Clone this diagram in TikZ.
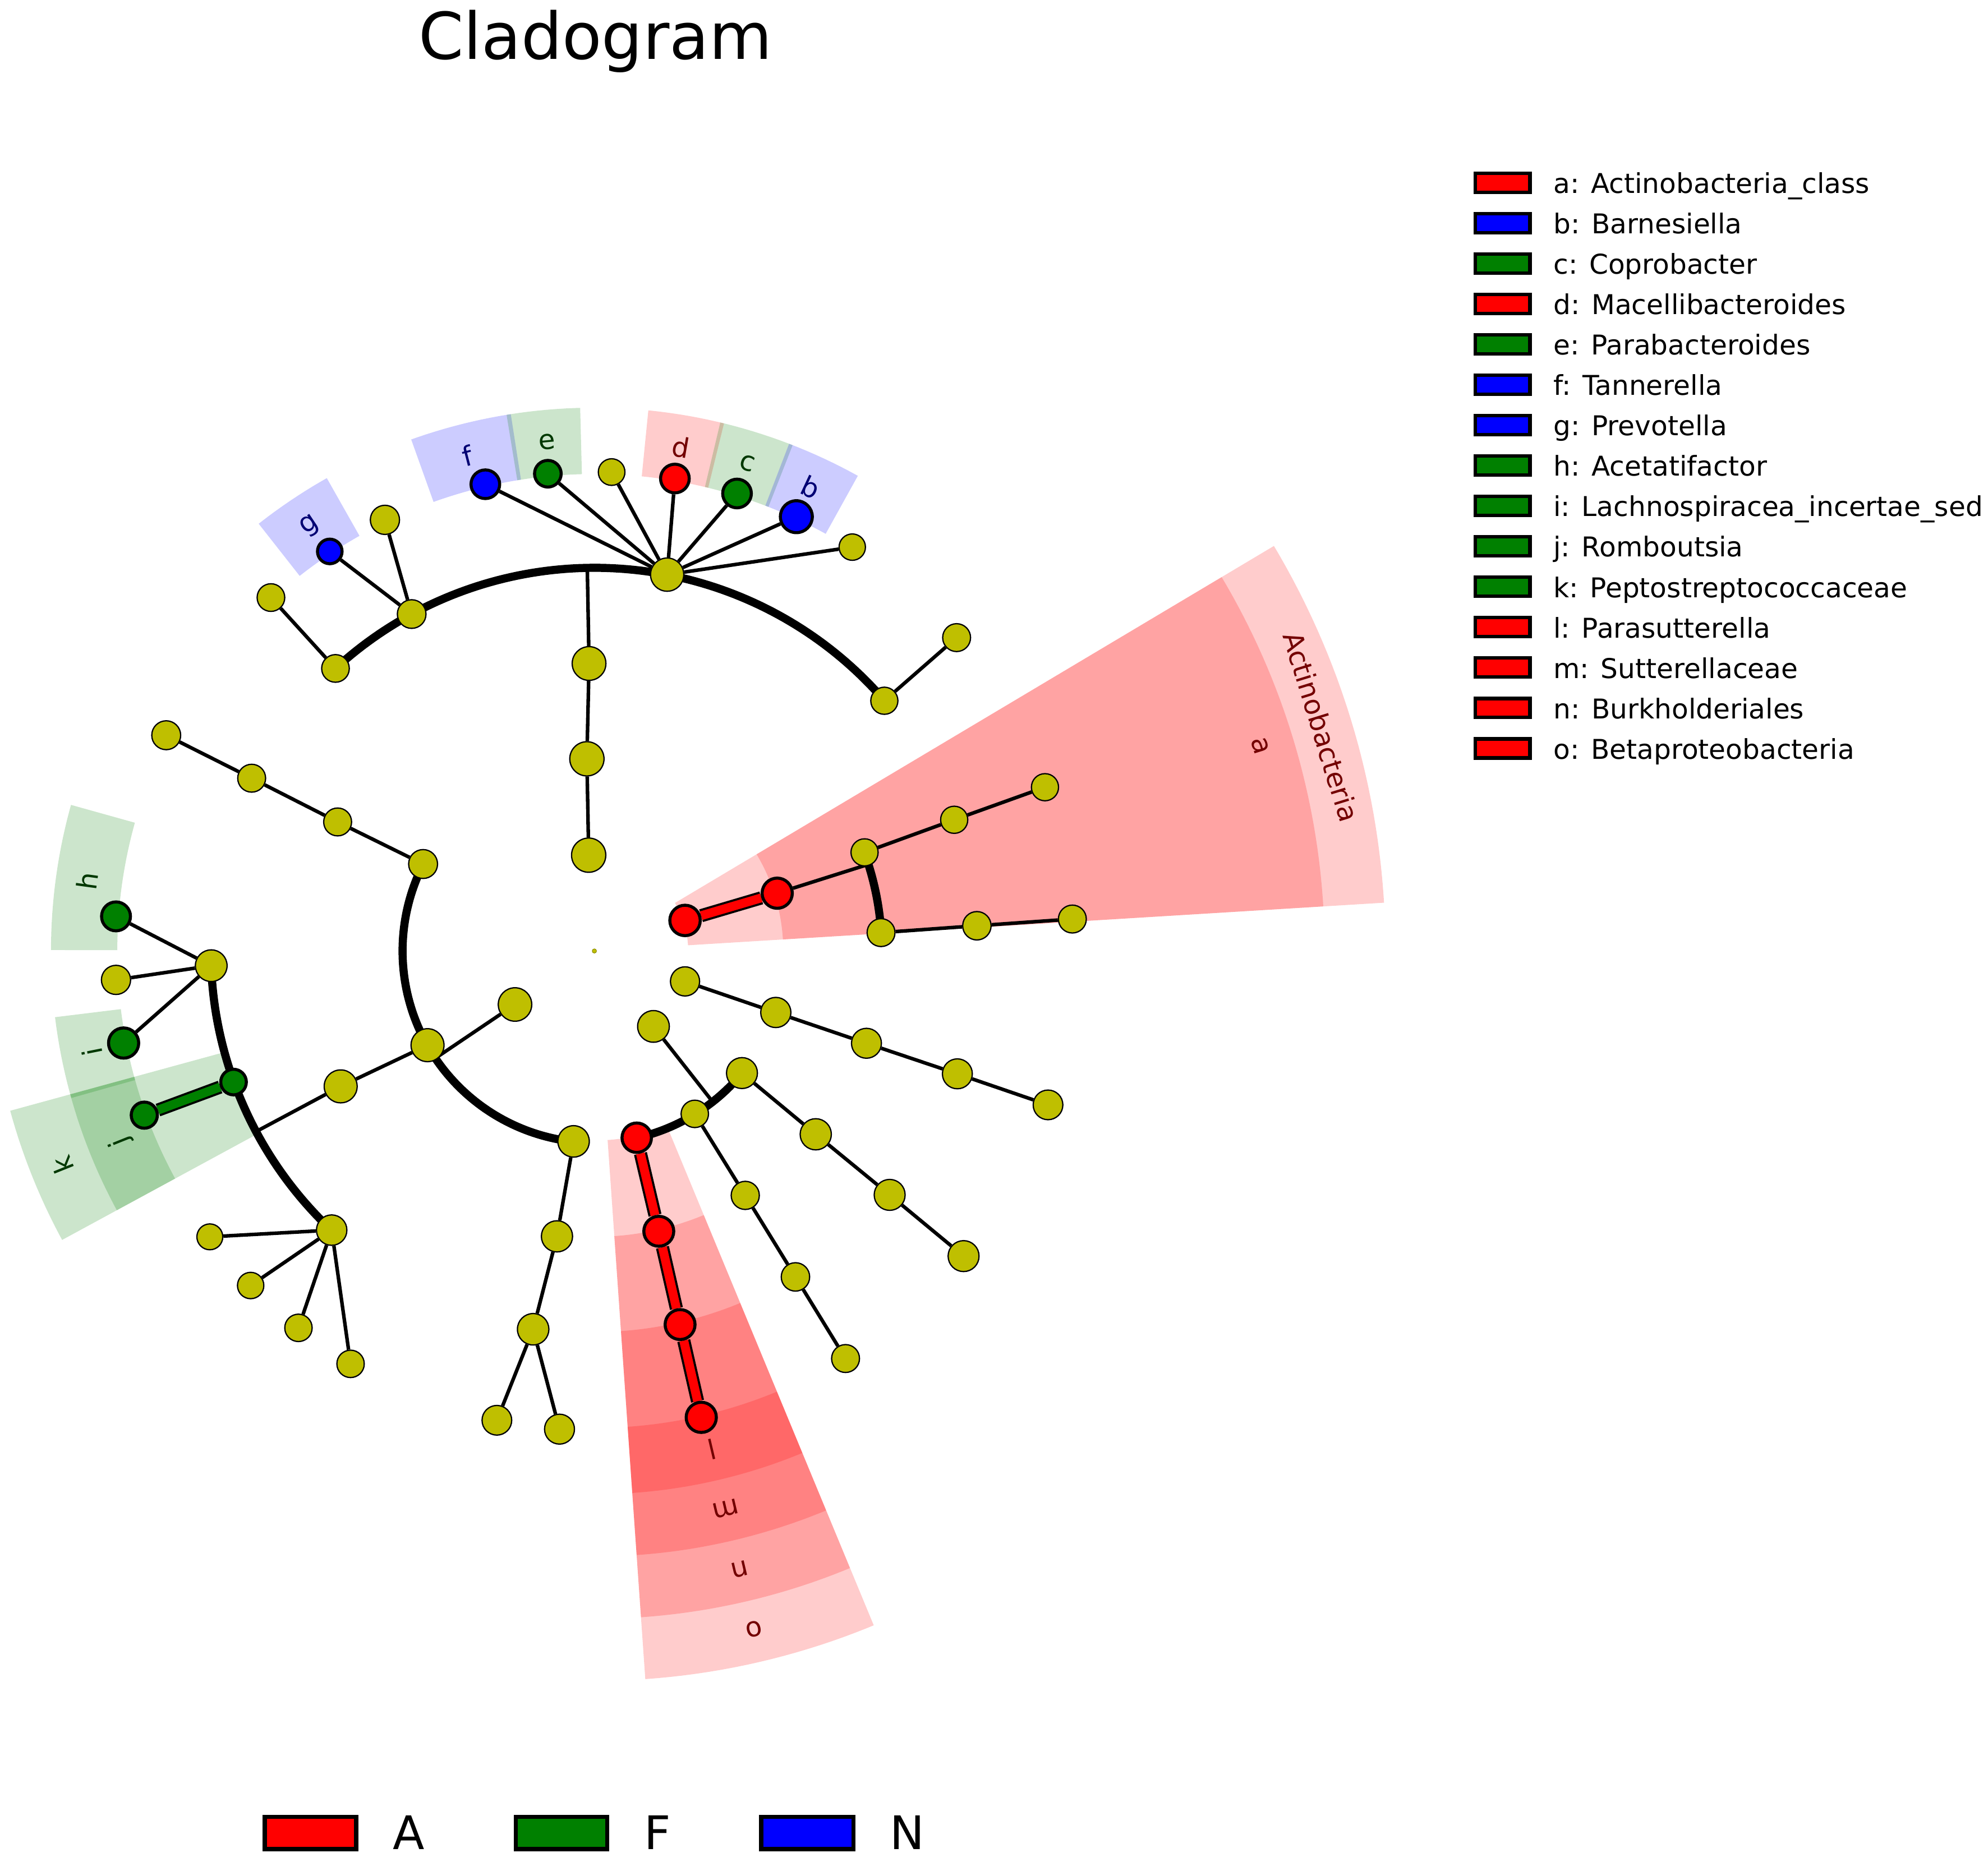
\documentclass[tikz,border=0pt]{standalone}
\usepackage{fontspec}
\setmainfont{DejaVu Sans}
\usetikzlibrary{calc}
\pgfdeclarelayer{seclayer}
\pgfdeclarelayer{edgelayer}
\pgfsetlayers{seclayer,edgelayer,main}
\definecolor{nodey}{rgb}{0.75,0.75,0}
\definecolor{mgreen}{rgb}{0,0.5,0}
\definecolor{labred}{rgb}{0.45,0,0}
\definecolor{labgreen}{rgb}{0,0.22,0}
\definecolor{labblue}{rgb}{0,0,0.45}
\newcommand\clsector[5]{\fill[#5,fill opacity=0.2] plot[domain=#1:#2,samples=60,variable=\t] ({468.8+#3*cos(\t)},{750.2+#3*sin(\t)}) -- plot[domain=#2:#1,samples=60,variable=\t] ({468.8+#4*cos(\t)},{750.2+#4*sin(\t)}) -- cycle;}
\newcommand\clarc[3]{\draw[tarc] plot[domain=#2:#3,samples=90,variable=\t] ({468.8+#1*cos(\t)},{750.2+#1*sin(\t)});}
\begin{document}
\begin{tikzpicture}[x=0.5pt,y=-0.5pt,
 ynode/.style={circle,draw=black,line width=0.5pt,fill=nodey,inner sep=0pt,minimum size=#1pt-0.5pt},
 rnode/.style={circle,draw=black,line width=1.2pt,fill=red,inner sep=0pt,minimum size=#1pt-1.2pt},
 gnode/.style={circle,draw=black,line width=1.2pt,fill=mgreen,inner sep=0pt,minimum size=#1pt-1.2pt},
 bnode/.style={circle,draw=black,line width=1.2pt,fill=blue,inner sep=0pt,minimum size=#1pt-1.2pt},
 brline/.style={line width=1.4pt,black},
 tarc/.style={line width=3.2pt,black},
 hlout/.style={line width=5.2pt,black},
 hlin/.style={line width=3.5pt},
 lab/.style={font=\fontsize{10.75}{13}\selectfont,inner sep=0pt},
 legt/.style={font=\fontsize{10.75}{13}\selectfont,inner sep=0pt,anchor=base west},
 bigleg/.style={font=\fontsize{18.25}{22}\selectfont,inner sep=0pt,anchor=base west},
 legpatch/.style={line width=1.35pt,draw=black},
 bigpatch/.style={line width=1.65pt,draw=black}]
\useasboundingbox (0,0) rectangle (1568,1468.5);
\coordinate (C) at (468.8,750.2);

% ---------- highlighted sectors ----------
\begin{pgfonlayer}{seclayer}
\fill[white] (0,0) rectangle (1568,1468.5);
\clsector{-30.8}{-3.5}{74}{624}{red}
\clsector{-30.8}{-3.5}{149}{576}{red}
\clsector{67.5}{86}{149.5}{575.8}{red}
\clsector{67.5}{86}{225.5}{526.9}{red}
\clsector{67.5}{86}{300.6}{477.7}{red}
\clsector{67.5}{86}{376.3}{428.6}{red}
\clsector{-128.15}{-119.5}{376.3}{428.6}{blue}
\clsector{-109.7}{-98.85}{376.3}{428.6}{blue}
\clsector{-99.3}{-91.5}{376.3}{428.6}{mgreen}
\clsector{-84.3}{-76.2}{376.3}{428.6}{red}
\clsector{-76.6}{-68.6}{376.3}{428.6}{mgreen}
\clsector{-69.0}{-61.0}{376.3}{428.6}{blue}
\clsector{180.1}{195.6}{376.3}{428.6}{mgreen}
\clsector{164.3}{173.0}{376.3}{428.6}{mgreen}
\clsector{151.5}{164.7}{300.6}{477.7}{mgreen}
\clsector{151.5}{164.7}{376.3}{428.6}{mgreen}
\end{pgfonlayer}

% ---------- nodes ----------
\node[circle,fill=nodey,draw=nodey!70!black,line width=0.2pt,inner sep=0pt,minimum size=1.7pt] (root) at (C) {};
% Bacteroidetes
\node[ynode=14] (P1) at (464.3,674.6) {};
\node[ynode=14] (C1) at (462.9,598.6) {};
\node[ynode=13.8] (O1) at (464.6,523.4) {};
\node[ynode=11.4] (T1) at (264.6,527.3) {};
\node[ynode=11.4] (T1a) at (213.7,471.4) {};
\node[ynode=11.8] (T2) at (324.7,484.4) {};
\node[ynode=12] (T2b) at (303.6,410.1) {};
\node[bnode=10.9] (g) at (260.1,435.0) {};
\node[ynode=13.6] (J) at (526.2,453.3) {};
\node[bnode=12.5] (f) at (382.8,382.0) {};
\node[gnode=11.7] (e) at (432.1,373.7) {};
\node[ynode=11] (Ja) at (482.4,372.4) {};
\node[rnode=12.5] (d) at (532.3,377.5) {};
\node[gnode=12.5] (c) at (581.3,389.3) {};
\node[bnode=13.8] (b) at (628.1,407.6) {};
\node[ynode=10.9] (Jb) at (672.2,431.6) {};
\node[ynode=11.2] (R) at (697.5,552.8) {};
\node[ynode=11.5] (Ra) at (754.5,503.0) {};
% Actinobacteria
\node[rnode=13.2] (A1) at (540.3,726.1) {};
\node[rnode=13.1] (A2) at (613.0,704.6) {};
\node[ynode=11.2] (A3) at (681.9,672.4) {};
\node[ynode=11.2] (A4) at (752.6,646.7) {};
\node[ynode=11.2] (A5) at (824.2,621.0) {};
\node[ynode=11.5] (A3b) at (694.9,735.7) {};
\node[ynode=11.7] (A4b) at (770.5,730.3) {};
\node[ynode=11.5] (A5b) at (845.8,725.0) {};
% chain right
\node[ynode=12] (Y1) at (540.3,774.2) {};
\node[ynode=12.4] (Y2) at (611.9,798.7) {};
\node[ynode=12.3] (Y3) at (683.4,823.0) {};
\node[ynode=12.3] (Y4) at (755.1,847.1) {};
\node[ynode=12.2] (Y5) at (826.6,871.6) {};
% Proteobacteria
\node[ynode=13] (Pr) at (515.4,809.7) {};
\node[ynode=12.7] (Q1) at (585.2,846.5) {};
\node[ynode=11.3] (Q0) at (548.0,878.7) {};
\node[rnode=12.8] (o) at (502.2,897.5) {};
\node[ynode=12.8] (Q2) at (643.4,894.8) {};
\node[ynode=12.7] (Q3) at (701.7,942.6) {};
\node[ynode=12.7] (Q4) at (760.0,990.9) {};
\node[ynode=11.6] (Q0b) at (587.8,943.0) {};
\node[ynode=11.7] (Q0c) at (627.4,1007.3) {};
\node[ynode=11.5] (Q0d) at (666.9,1071.7) {};
\node[rnode=13] (n) at (519.6,971.3) {};
\node[rnode=13] (m) at (536.4,1044.9) {};
\node[rnode=13.1] (l) at (553.1,1118.1) {};
% Firmicutes
\node[ynode=13.7] (Fi) at (406.2,792.4) {};
\node[ynode=11.9] (L2a) at (333.7,681.6) {};
\node[ynode=11.5] (L3a) at (266.3,648.4) {};
\node[ynode=11.5] (L4a) at (198.5,613.9) {};
\node[ynode=11.9] (L5a) at (131.1,580.0) {};
\node[ynode=13.5] (L2b) at (337.2,824.5) {};
\node[ynode=13.5] (L3b) at (268.7,857.0) {};
\node[ynode=13] (La) at (166.6,761.8) {};
\node[gnode=12.6] (h) at (91.5,722.9) {};
\node[ynode=12] (Lb) at (91.5,773.0) {};
\node[gnode=13.1] (i) at (97.5,822.8) {};
\node[gnode=11.3] (k) at (184.2,853.6) {};
\node[gnode=11.5] (j) at (113.8,879.7) {};
\node[ynode=12.5] (Lc) at (261.6,970.4) {};
\node[ynode=10.7] (Lc1) at (165.5,975.7) {};
\node[ynode=10.9] (Lc2) at (197.7,1014.1) {};
\node[ynode=11.3] (Lc3) at (235.4,1047.5) {};
\node[ynode=11.3] (Lc4) at (276.5,1075.9) {};
\node[ynode=12.9] (L2c) at (452.4,900.4) {};
\node[ynode=12.8] (L3c) at (439.3,975.3) {};
\node[ynode=12.9] (L4c) at (420.5,1048.6) {};
\node[ynode=12.2] (L5c1) at (391.9,1120.4) {};
\node[ynode=12.3] (L5c2) at (441.3,1127.4) {};

% radial end points on arcs
\coordinate (O1x) at ($(C)+(-91.06:302.3)$);
\coordinate (A2x) at ($(C)+(-17.55:226.7)$);
\coordinate (Prx) at ($(C)+(51.9:151.2)$);
\coordinate (Fix) at ($(C)+(146.0:151.3)$);
\coordinate (L3bx) at ($(C)+(151.9:302.5)$);

% ---------- branches ----------
\begin{pgfonlayer}{edgelayer}
\clarc{302.3}{-132.5}{-40.8}
\clarc{226.7}{-20.06}{-3.67}
\clarc{151.2}{39.6}{77.2}
\clarc{151.3}{96.2}{206.9}
\clarc{302.5}{133.25}{177.8}
\draw[brline] (P1)--(C1) (C1)--(O1) (O1)--(O1x)
  (T1)--(T1a) (T2)--(g) (T2)--(T2b)
  (J)--(f) (J)--(e) (J)--(Ja) (J)--(d) (J)--(c) (J)--(b) (J)--(Jb) (R)--(Ra)
  (A2)--(A2x) (A3)--(A4) (A4)--(A5) (A3b)--(A4b) (A4b)--(A5b)
  (Y1)--(Y2) (Y2)--(Y3) (Y3)--(Y4) (Y4)--(Y5)
  (Pr)--(Prx) (Q1)--(Q2) (Q2)--(Q3) (Q3)--(Q4) (Q0)--(Q0b) (Q0b)--(Q0c) (Q0c)--(Q0d)
  (Fi)--(Fix) (L2a)--(L3a) (L3a)--(L4a) (L4a)--(L5a)
  (L2c)--(L3c) (L3c)--(L4c) (L4c)--(L5c1) (L4c)--(L5c2)
  (L2b)--(L3b) (L3b)--(L3bx) (La)--(h) (La)--(Lb) (La)--(i)
  (Lc)--(Lc1) (Lc)--(Lc2) (Lc)--(Lc3) (Lc)--(Lc4);
\draw[hlout] (A1)--(A2) (o)--(n) (n)--(m) (m)--(l) (k)--(j);
\draw[hlin,red] (A1)--(A2) (o)--(n) (n)--(m) (m)--(l);
\draw[hlin,mgreen] (k)--(j);
\end{pgfonlayer}

% ---------- clade labels ----------
\node[lab,text=labblue,rotate=33.8] (labg) at ($(C)+(-123.8:403.5)$) {g};
\node[lab,text=labblue,rotate=14.4] (labf) at ($(C)+(-104.4:403.5)$) {f};
\node[lab,text=labgreen,rotate=5.3] (labe) at ($(C)+(-95.3:403.5)$) {e};
\node[lab,text=labred,rotate=-9.75] (labd) at ($(C)+(-80.25:403.5)$) {d};
\node[lab,text=labgreen,rotate=-17.4] (labc) at ($(C)+(-72.6:403.5)$) {c};
\node[lab,text=labblue,rotate=-25] (labb) at ($(C)+(-65.0:403.5)$) {b};
\node[lab,text=labgreen,rotate=82.15] (labh) at ($(C)+(187.85:404)$) {h};
\node[lab,text=labgreen,rotate=101.35] (labi) at ($(C)+(168.65:404)$) {i};
\node[lab,text=labgreen,rotate=111.9] (labj) at ($(C)+(158.1:403)$) {j};
\node[lab,text=labgreen,rotate=111.9] (labk) at ($(C)+(158.1:452.5)$) {k};
\node[lab,text=labred,rotate=-166.75] (labl) at ($(C)+(76.75:404)$) {l};
\node[lab,text=labred,rotate=-166.75] (labm) at ($(C)+(76.75:452)$) {m};
\node[lab,text=labred,rotate=-166.75] (labn) at ($(C)+(76.75:501)$) {n};
\node[lab,text=labred,rotate=-166.75] (labo) at ($(C)+(76.75:549.5)$) {o};
\node[lab,text=labred,rotate=-72.85] (laba) at ($(C)+(-17.15:549.5)$) {a};
\node[lab,text=labred,rotate=-72.85] (labact) at ($(C)+(-17.15:600)$) {Actinobacteria};

% ---------- title ----------
\node[font=\fontsize{25.5}{30}\selectfont,inner sep=0pt,anchor=base] (title) at (469.5,46.5) {Cladogram};

% ---------- right legend ----------
\foreach \tx/\cl [count=\n from 0] in {{a: Actinobacteria\_class}/red,{b: Barnesiella}/blue,{c: Coprobacter}/mgreen,{d: Macellibacteroides}/red,{e: Parabacteroides}/mgreen,{f: Tannerella}/blue,{g: Prevotella}/blue,{h: Acetatifactor}/mgreen,{i: Lachnospiracea\_incertae\_sed}/mgreen,{j: Romboutsia}/mgreen,{k: Peptostreptococcaceae}/mgreen,{l: Parasutterella}/red,{m: Sutterellaceae}/red,{n: Burkholderiales}/red,{o: Betaproteobacteria}/red}{
  \draw[legpatch,fill=\cl] (1163.65,{144.1+31.88*\n-7.5}) rectangle (1206.75,{144.1+31.88*\n+7.5});
  \node[legt] (leg\n) at (1224.9,{152.4+31.88*\n}) {\tx};
}

% ---------- bottom legend ----------
\draw[bigpatch,fill=red] (208.75,1433.35) rectangle (280.95,1458.75);
\node[bigleg] (legA) at (309.4,1458.9) {A};
\draw[bigpatch,fill=mgreen] (406.75,1433.35) rectangle (479.05,1458.75);
\node[bigleg] (legF) at (507.9,1458.9) {F};
\draw[bigpatch,fill=blue] (600.45,1433.35) rectangle (673.05,1458.75);
\node[bigleg] (legN) at (701.6,1458.9) {N};
\end{tikzpicture}
\end{document}
